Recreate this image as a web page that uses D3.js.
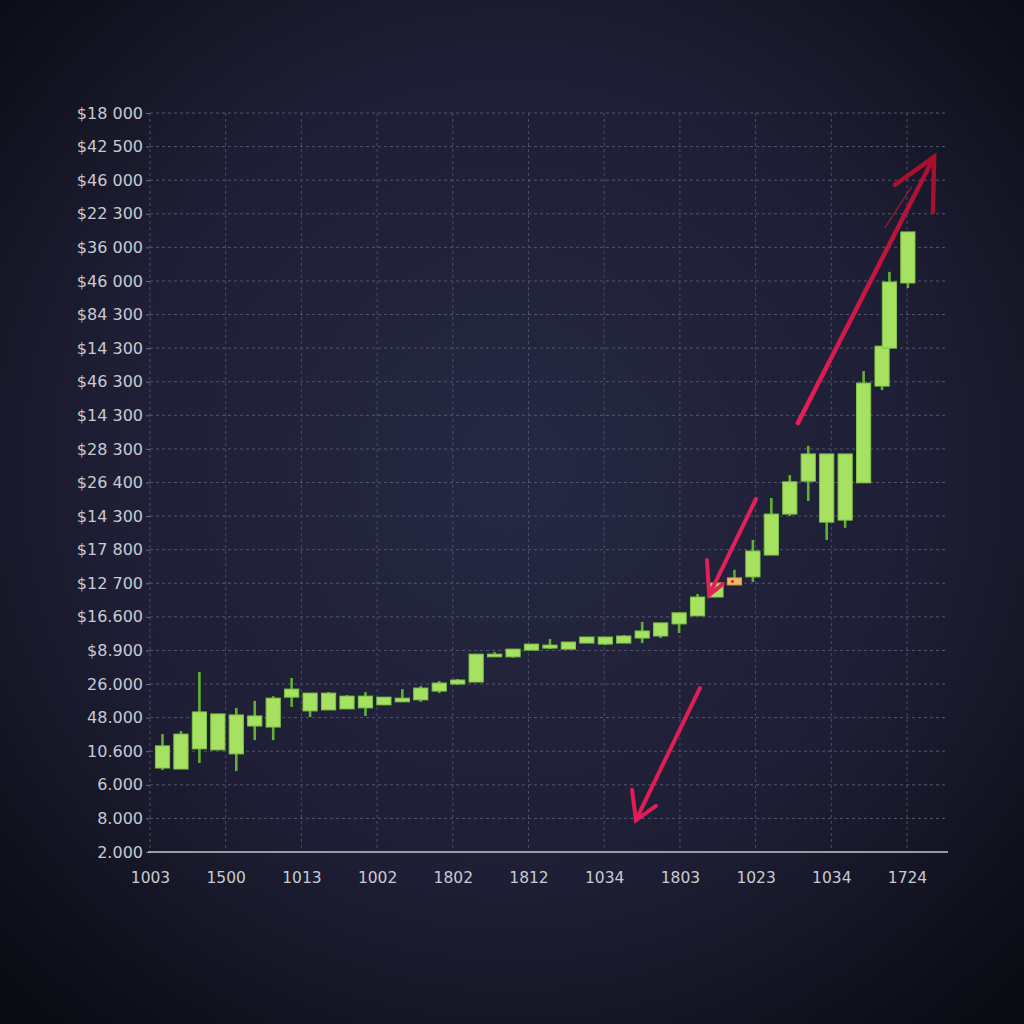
<!DOCTYPE html>
<html>
<head>
<meta charset="utf-8">
<script src="https://cdn.jsdelivr.net/npm/d3@7/dist/d3.min.js"></script>
<style>
  html, body { margin: 0; padding: 0; background: #0d0d16; }
  svg { display: block; }
</style>
</head>
<body>
<svg id="chart" width="1024" height="1024"></svg>
<script>
// ---------- DATA ----------
const yTickLabels = ["$18 000","$42 500","$46 000","$22 300","$36 000","$46 000","$84 300",
  "$14 300","$46 300","$14 300","$28 300","$26 400","$14 300","$17 800","$12 700","$16.600",
  "$8.900","26.000","48.000","10.600","6.000","8.000","2.000"];
const xTickLabels = ["1003","1500","1013","1002","1802","1812","1034","1803","1023","1034","1724"];

// candle slot positions (time index)
const slots = [0,1,2,3,4,5,6,7,8,9,10,11,12,13,14,15,16,17,18,19,20,21,22,23,24,25,26,27,28,29,30,31,32,33,34,35,36,37,38,39,39.4,40.4];
// price values in grid-level units
const opens  = [2.50,2.47,3.07,3.04,2.92,3.75,3.72,4.61,4.20,4.23,4.26,4.29,4.38,4.47,4.53,4.79,5.00,5.06,5.81,5.81,6.01,6.07,6.04,6.22,6.19,6.22,6.37,6.43,6.79,7.03,7.59,7.95,8.19,8.84,10.06,11.04,9.82,9.88,10.99,13.87,15.00,16.94];
const closes = [3.16,3.51,4.17,4.11,4.08,4.05,4.58,4.85,4.73,4.73,4.64,4.64,4.61,4.58,4.88,5.03,5.12,5.89,5.89,6.04,6.19,6.16,6.25,6.40,6.40,6.43,6.58,6.82,7.12,7.59,8.01,8.16,8.96,10.06,11.02,11.85,11.85,11.85,13.96,15.06,16.97,18.46];
const highs  = [3.51,3.60,5.36,4.11,4.29,4.50,4.64,5.18,4.73,4.76,4.67,4.76,4.61,4.85,4.94,5.09,5.15,5.89,5.95,6.04,6.19,6.34,6.25,6.40,6.40,6.46,6.85,6.82,7.12,7.68,8.01,8.40,9.29,10.54,11.22,12.09,11.85,11.85,14.32,15.06,17.27,18.46];
const lows   = [2.44,2.47,2.65,3.04,2.41,3.33,3.33,4.32,4.02,4.23,4.26,4.05,4.38,4.47,4.47,4.73,4.97,5.06,5.81,5.78,6.01,6.04,6.04,6.22,6.16,6.22,6.22,6.37,6.52,7.03,7.59,7.95,8.04,8.84,10.00,10.45,9.29,9.65,10.99,13.75,15.00,16.79];
const candleKind = slots.map((s,i) => i === 31 ? "alt" : "up");

// annotation arrows in data units [slot, level]
const arrows = [
  { from:[34.44,12.77], tip:[41.82,20.69], wingA:[39.70,19.86], wingB:[41.76,19.05], color0:"#e81e5a", color1:"#a8102e", w:4.5 },
  { from:[32.17,10.51], tip:[29.63,7.65],  wingA:[29.51,8.69],  wingB:[30.38,7.98],  color0:"#e3205a", color1:"#e3205a", w:4 },
  { from:[29.13,4.88],  tip:[25.66,0.95],  wingA:[25.45,1.85],  wingB:[26.75,1.37],  color0:"#e01e55", color1:"#e01e55", w:4 }
];

// ---------- CHART ----------
const svg = d3.select("#chart");
const W = 1024, H = 1024;
const plot = { left: 150, right: 948, top: 113, bottom: 852 };

const defs = svg.append("defs");
const bg = defs.append("radialGradient").attr("id","bg").attr("cx","50%").attr("cy","46%").attr("r","72%");
bg.append("stop").attr("offset","0%").attr("stop-color","#262842");
bg.append("stop").attr("offset","55%").attr("stop-color","#1e1f35");
bg.append("stop").attr("offset","100%").attr("stop-color","#0a0a12");
svg.append("rect").attr("width",W).attr("height",H).attr("fill","url(#bg)");

const y = d3.scaleLinear().domain([0, yTickLabels.length - 1]).range([plot.bottom, plot.top]);
const xCat = d3.scalePoint().domain(xTickLabels.map((d,i)=>i)).range([150, 907]);
const x = d3.scaleLinear().domain([0, 40]).range([162.5, 900.5]);

// horizontal grid
const yTickVals = yTickLabels.map((d,i) => yTickLabels.length - 1 - i);
svg.append("g").selectAll("line").data(yTickVals.filter(v => v > 0)).join("line")
  .attr("x1", plot.left).attr("x2", plot.right)
  .attr("y1", d => y(d)).attr("y2", d => y(d))
  .attr("stroke", "#54566f").attr("stroke-width", 1).attr("stroke-dasharray", "3,3");

// vertical grid
svg.append("g").selectAll("line").data(xTickLabels.map((d,i)=>i)).join("line")
  .attr("x1", d => xCat(d)).attr("x2", d => xCat(d))
  .attr("y1", plot.top).attr("y2", plot.bottom)
  .attr("stroke", "#4c4e68").attr("stroke-width", 1).attr("stroke-dasharray", "3,3");

// y axis
const yAxis = svg.append("g").attr("transform", `translate(${plot.left},0)`)
  .call(d3.axisLeft(y).tickValues(yTickVals).tickFormat(v => yTickLabels[yTickLabels.length - 1 - v]).tickSize(4).tickPadding(3));
yAxis.select(".domain").remove();
yAxis.selectAll("line").attr("stroke", "#6a6c84");
yAxis.selectAll("text").attr("fill", "#c9cad3").style("font-family", "DejaVu Sans, sans-serif").style("font-size", "16px");

// x axis
const xAxis = svg.append("g").attr("transform", `translate(0,${plot.bottom})`)
  .call(d3.axisBottom(xCat).tickFormat(i => xTickLabels[i]).tickSize(0).tickPadding(20));
xAxis.select(".domain").remove();
xAxis.selectAll("text").attr("fill", "#c9cad3").style("font-family", "DejaVu Sans, sans-serif").style("font-size", "15.5px");
svg.append("line").attr("x1", 148).attr("x2", plot.right).attr("y1", y(0)).attr("y2", y(0))
  .attr("stroke", "#c4c5ce").attr("stroke-width", 1.6);

// candles
const candles = slots.map((s,i) => ({ s, o: opens[i], c: closes[i], h: highs[i], l: lows[i], k: candleKind[i] }));
const bw = x(0.77) - x(0);
const cg = svg.append("g");
cg.selectAll("line.wick").data(candles).join("line").attr("class","wick")
  .attr("x1", d => x(d.s)).attr("x2", d => x(d.s))
  .attr("y1", d => y(d.h)).attr("y2", d => y(d.l))
  .attr("stroke", d => d.k === "alt" ? "#4eb030" : "#62b22f").attr("stroke-width", 2.6);
cg.selectAll("rect.body").data(candles).join("rect").attr("class","body")
  .attr("x", d => x(d.s) - bw/2).attr("width", bw)
  .attr("y", d => y(Math.max(d.o, d.c)))
  .attr("height", d => Math.max(2, y(Math.min(d.o, d.c)) - y(Math.max(d.o, d.c))))
  .attr("fill", d => d.k === "alt" ? "#f3b865" : "#a6e162")
  .attr("stroke", d => d.k === "alt" ? "#d99a45" : "#7fc445").attr("stroke-width", 1);
cg.selectAll("circle.dot").data(candles.filter(d => d.k === "alt")).join("circle")
  .attr("cx", d => x(d.s) - 2).attr("cy", d => y((d.o + d.c)/2)).attr("r", 1.6).attr("fill", "#d2304a");

// arrows
arrows.forEach((a, i) => {
  const gid = "ag" + i;
  const g = defs.append("linearGradient").attr("id", gid).attr("gradientUnits","userSpaceOnUse")
    .attr("x1", x(a.from[0])).attr("y1", y(a.from[1])).attr("x2", x(a.tip[0])).attr("y2", y(a.tip[1]));
  g.append("stop").attr("offset","0%").attr("stop-color", a.color0);
  g.append("stop").attr("offset","100%").attr("stop-color", a.color1);
  svg.append("line")
    .attr("x1", x(a.from[0])).attr("y1", y(a.from[1]))
    .attr("x2", x(a.tip[0])).attr("y2", y(a.tip[1]))
    .attr("stroke", `url(#${gid})`).attr("stroke-width", a.w).attr("stroke-linecap", "round");
  svg.append("path")
    .attr("d", d3.line()([[x(a.wingA[0]), y(a.wingA[1])], [x(a.tip[0]), y(a.tip[1])], [x(a.wingB[0]), y(a.wingB[1])]]))
    .attr("fill", "none").attr("stroke", a.color1).attr("stroke-width", a.w)
    .attr("stroke-linejoin", "miter").attr("stroke-linecap", "round");
});
// faint secondary stroke near the top arrow
svg.append("line").attr("x1", x(39.15)).attr("y1", y(18.58)).attr("x2", x(40.6)).attr("y2", y(19.8))
  .attr("stroke", "#b01838").attr("stroke-width", 1.4).attr("opacity", 0.8);
</script>
</body>
</html>
